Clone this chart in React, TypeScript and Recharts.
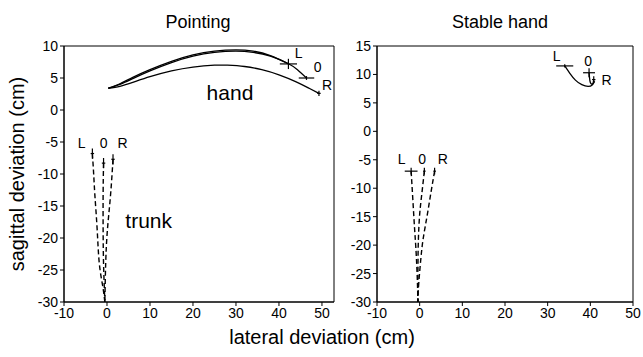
import React from "react";
import {
  ComposedChart,
  Line,
  Scatter,
  XAxis,
  YAxis,
  ErrorBar,
  ReferenceArea,
} from "recharts";

// ---- Pointing panel ----
const pointHandL = [
  { x: 0.3, y: 3.4 }, { x: 3, y: 4.1 }, { x: 6, y: 5.1 }, { x: 10, y: 6.3 },
  { x: 15, y: 7.6 }, { x: 20, y: 8.6 }, { x: 25, y: 9.2 }, { x: 30, y: 9.4 },
  { x: 34, y: 9.2 }, { x: 38, y: 8.5 }, { x: 42.2, y: 7.2 },
];
const pointHandO = [
  { x: 0.3, y: 3.4 }, { x: 3, y: 4.0 }, { x: 6, y: 4.9 }, { x: 10, y: 6.1 },
  { x: 15, y: 7.4 }, { x: 20, y: 8.4 }, { x: 25, y: 9.0 }, { x: 30, y: 9.2 },
  { x: 34, y: 9.0 }, { x: 38, y: 8.4 }, { x: 42, y: 7.3 }, { x: 44.3, y: 6.3 },
  { x: 46.4, y: 5.0 },
];
const pointHandR = [
  { x: 0.3, y: 3.4 }, { x: 3, y: 3.7 }, { x: 6, y: 4.3 }, { x: 10, y: 5.2 },
  { x: 15, y: 6.1 }, { x: 20, y: 6.7 }, { x: 25, y: 7.0 }, { x: 28, y: 7.0 },
  { x: 32, y: 6.8 }, { x: 36, y: 6.3 }, { x: 40, y: 5.5 }, { x: 44, y: 4.4 },
  { x: 47, y: 3.4 }, { x: 49.3, y: 2.6 },
];
const pointTrunkL = [
  { x: -3.4, y: -6.8 }, { x: -3.1, y: -10 }, { x: -2.8, y: -13.5 },
  { x: -2.3, y: -18.5 }, { x: -1.8, y: -23.9 }, { x: -1.0, y: -27.5 }, { x: -0.5, y: -30 },
];
const pointTrunkO = [
  { x: -0.8, y: -8.3 }, { x: -0.9, y: -13 }, { x: -0.9, y: -18.7 },
  { x: -0.8, y: -24 }, { x: -0.5, y: -30 },
];
const pointTrunkR = [
  { x: 1.4, y: -7.7 }, { x: 0.8, y: -13.5 }, { x: 0.1, y: -18.7 },
  { x: -0.3, y: -23.9 }, { x: -0.5, y: -30 },
];
const pointMarkers = [
  { x: 42.2, y: 7.2, ex: 2.0, ey: 0.8 },
  { x: 46.4, y: 5.0, ex: 1.8, ey: 0.3 },
  { x: 49.3, y: 2.6, ex: 0.4, ey: 0.4 },
  { x: -3.4, y: -6.8, ex: 0.4, ey: 0.8 },
  { x: -0.8, y: -8.3, ex: 0.4, ey: 0.8 },
  { x: 1.4, y: -7.7, ex: 0.4, ey: 0.8 },
];
const pointLabels = [
  { x: 44.6, y: 8.9, text: "L", size: 14 },
  { x: 49.0, y: 6.7, text: "0", size: 14 },
  { x: 51.2, y: 3.9, text: "R", size: 14 },
  { x: -5.9, y: -5.2, text: "L", size: 14 },
  { x: -0.8, y: -5.2, text: "0", size: 14 },
  { x: 3.6, y: -5.2, text: "R", size: 14 },
  { x: 28.6, y: 2.8, text: "hand", size: 21 },
  { x: 9.7, y: -17.3, text: "trunk", size: 21 },
];

// ---- Stable hand panel ----
const stableHandL = [
  { x: 34.0, y: 11.5 }, { x: 35.2, y: 10.2 }, { x: 36.5, y: 9.0 },
  { x: 38.0, y: 8.2 }, { x: 39.5, y: 7.9 }, { x: 40.5, y: 8.2 }, { x: 41.0, y: 8.8 },
];
const stableHandO = [
  { x: 39.7, y: 10.3 }, { x: 39.8, y: 9.5 }, { x: 40.0, y: 8.6 },
  { x: 40.5, y: 8.3 }, { x: 40.8, y: 9.0 },
];
const stableTrunkL = [
  { x: -2.0, y: -7.0 }, { x: -1.6, y: -12 }, { x: -1.2, y: -17 },
  { x: -0.9, y: -20.4 }, { x: -0.6, y: -25 }, { x: -0.4, y: -30 },
];
const stableTrunkO = [
  { x: 1.1, y: -7.0 }, { x: 0.5, y: -11 }, { x: 0, y: -14.6 },
  { x: -0.3, y: -19 }, { x: -0.4, y: -24 }, { x: -0.4, y: -30 },
];
const stableTrunkR = [
  { x: 3.5, y: -7.0 }, { x: 2.7, y: -10.5 }, { x: 1.8, y: -14.6 },
  { x: 0.9, y: -18.5 }, { x: 0.3, y: -22.2 }, { x: -0.3, y: -27.6 }, { x: -0.4, y: -30 },
];
const stableMarkers = [
  { x: 34.0, y: 11.5, ex: 2.0, ey: 0.3 },
  { x: 39.7, y: 10.3, ex: 1.4, ey: 0.8 },
  { x: 40.8, y: 9.1, ex: 0.4, ey: 0.6 },
  { x: -2.0, y: -7.0, ex: 1.5, ey: 0.6 },
  { x: 1.1, y: -7.0, ex: 0.3, ey: 0.6 },
  { x: 3.5, y: -7.0, ex: 0.3, ey: 0.6 },
];
const stableLabels = [
  { x: 32.1, y: 13.2, text: "L", size: 14 },
  { x: 39.5, y: 12.4, text: "0", size: 14 },
  { x: 43.8, y: 9.0, text: "R", size: 14 },
  { x: -4.2, y: -4.8, text: "L", size: 14 },
  { x: 0.6, y: -4.8, text: "0", size: 14 },
  { x: 5.4, y: -4.8, text: "R", size: 14 },
];

const xTicks = [-10, 0, 10, 20, 30, 40, 50];
const pointYTicks = [-30, -25, -20, -15, -10, -5, 0, 5, 10];
const stableYTicks = [-30, -25, -20, -15, -10, -5, 0, 5, 10, 15];

const FONT = "'Liberation Sans', Arial, sans-serif";
const tick = { fill: "#000", fontSize: 14, fontFamily: FONT };

const noDot = () => <g />;
const textShape = (p: any) => (
  <text
    x={p.cx}
    y={p.cy}
    textAnchor="middle"
    dominantBaseline="central"
    fontSize={p.payload.size}
    fontFamily={FONT}
    fill="#000"
  >
    {p.payload.text}
  </text>
);

function Panel(props: {
  left: number;
  width: number;
  margin: any;
  xMax: number;
  yMax: number;
  yTicks: number[];
  solid: { x: number; y: number }[][];
  dashed: { x: number; y: number }[][];
  markers: any[];
  labels: any[];
}) {
  return (
    <div style={{ position: "absolute", left: props.left, top: 0 }}>
      <ComposedChart width={props.width} height={357} margin={props.margin}>
        <XAxis
          type="number"
          dataKey="x"
          domain={[-10, props.xMax]}
          ticks={xTicks}
          allowDataOverflow
          tick={tick}
          tickSize={4}
          stroke="#000"
          height={20}
        />
        <YAxis
          type="number"
          dataKey="y"
          domain={[-30, props.yMax]}
          ticks={props.yTicks}
          allowDataOverflow
          tick={tick}
          tickSize={4}
          stroke="#000"
          width={30}
        />
        <ReferenceArea
          x1={-10}
          x2={props.xMax}
          y1={-30}
          y2={props.yMax}
          fill="none"
          stroke="#000"
          strokeWidth={1}
        />
        {props.solid.map((d, i) => (
          <Line
            key={"s" + i}
            data={d}
            dataKey="y"
            type="natural"
            stroke="#000"
            strokeWidth={1.3}
            dot={false}
            isAnimationActive={false}
          />
        ))}
        {props.dashed.map((d, i) => (
          <Line
            key={"d" + i}
            data={d}
            dataKey="y"
            type="natural"
            stroke="#000"
            strokeWidth={1.4}
            strokeDasharray="5 3"
            dot={false}
            isAnimationActive={false}
          />
        ))}
        <Scatter data={props.markers} dataKey="y" shape={noDot} isAnimationActive={false}>
          <ErrorBar dataKey="ex" direction="x" width={0} stroke="#000" strokeWidth={1.2} />
          <ErrorBar dataKey="ey" direction="y" width={0} stroke="#000" strokeWidth={1.2} />
        </Scatter>
        <Scatter data={props.labels} dataKey="y" shape={textShape} isAnimationActive={false} />
      </ComposedChart>
    </div>
  );
}

export default function App() {
  return (
    <div
      style={{
        position: "absolute",
        left: 0,
        top: 0,
        width: 643,
        height: 357,
        background: "#fff",
        overflow: "hidden",
      }}
    >
      <Panel
        left={0}
        width={340}
        margin={{ top: 46, right: 6, bottom: 35, left: 34 }}
        xMax={52.8}
        yMax={10}
        yTicks={pointYTicks}
        solid={[pointHandL, pointHandO, pointHandR]}
        dashed={[pointTrunkL, pointTrunkO, pointTrunkR]}
        markers={pointMarkers}
        labels={pointLabels}
      />
      <Panel
        left={340}
        width={303}
        margin={{ top: 46, right: 10, bottom: 35, left: 7 }}
        xMax={50}
        yMax={15}
        yTicks={stableYTicks}
        solid={[stableHandL, stableHandO]}
        dashed={[stableTrunkL, stableTrunkO, stableTrunkR]}
        markers={stableMarkers}
        labels={stableLabels}
      />
      <svg
        width={643}
        height={357}
        style={{ position: "absolute", left: 0, top: 0, pointerEvents: "none" }}
        fontFamily={FONT}
      >
        <text x={198} y={28} textAnchor="middle" fontSize={18} fill="#000">
          Pointing
        </text>
        <text x={500} y={28} textAnchor="middle" fontSize={18} fill="#000">
          Stable hand
        </text>
        <text x={322} y={344} textAnchor="middle" fontSize={20} fill="#000">
          lateral deviation (cm)
        </text>
        <text
          x={0}
          y={0}
          transform="translate(24,174) rotate(-90)"
          textAnchor="middle"
          fontSize={20}
          fill="#000"
        >
          sagittal deviation (cm)
        </text>
      </svg>
    </div>
  );
}
